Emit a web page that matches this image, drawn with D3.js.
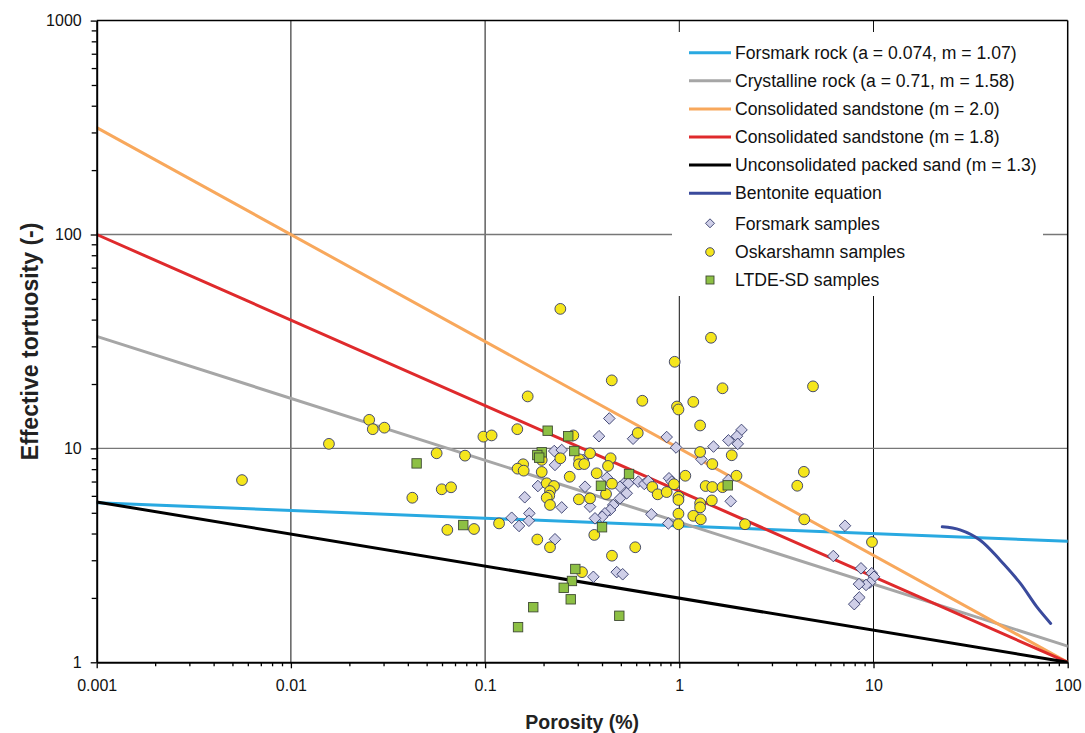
<!DOCTYPE html>
<html>
<head>
<meta charset="utf-8">
<script src="https://cdn.jsdelivr.net/npm/d3@7"></script>
<style>
  html, body { margin: 0; padding: 0; background: #fff; }
  svg { display: block; font-family: "Liberation Sans", Arial, sans-serif; }
</style>
</head>
<body>
<svg id="chart" width="1085" height="733"></svg>
<script>
// ---------------- DATA ----------------
const xTickValues = [0.001, 0.01, 0.1, 1, 10, 100];
const xTickLabels = ["0.001", "0.01", "0.1", "1", "10", "100"];
const yTickValues = [1, 10, 100, 1000];
const yTickLabels = ["1", "10", "100", "1000"];

const xTitle = "Porosity (%)";
const yTitle = "Effective tortuosity (-)";

const seriesNames = [
  "Forsmark rock (a = 0.074, m = 1.07)",
  "Crystalline rock (a = 0.71, m = 1.58)",
  "Consolidated sandstone (m = 2.0)",
  "Consolidated sandstone (m = 1.8)",
  "Unconsolidated packed sand (m = 1.3)",
  "Bentonite equation",
  "Forsmark samples",
  "Oskarshamn samples",
  "LTDE-SD samples"
];

// model lines [porosity %, tortuosity]
const forsmarkRock    = [[0.001, 5.57], [100, 3.68]];
const crystallineRock = [[0.001, 33.4], [100, 1.19]];
const sandstone20     = [[0.001, 316],  [100, 1]];
const sandstone18     = [[0.001, 100],  [100, 1]];
const packedSand      = [[0.001, 5.62], [100, 1]];
const bentonite       = [[22.6, 4.30], [27.9, 4.16], [35.3, 3.73], [44.8, 3.01], [56.8, 2.35], [69.2, 1.82], [81.7, 1.52]];

// samples [porosity %, tortuosity]
const forsmarkSamples = [
  [0.436, 13.8], [0.386, 11.4], [0.578, 11.1], [0.861, 11.3], [0.962, 10.1], [1.50, 10.2],
  [1.30, 8.89], [0.227, 9.72], [0.248, 9.83], [0.229, 8.37], [0.320, 8.83], [0.187, 6.67],
  [0.327, 6.62], [0.424, 7.30], [0.530, 6.99], [0.546, 6.87], [0.615, 6.99], [0.660, 6.82],
  [0.692, 7.04], [0.885, 7.25], [0.914, 6.99], [0.495, 6.62], [0.536, 6.17], [0.495, 5.84],
  [0.160, 5.91], [0.248, 5.30], [0.347, 5.34], [0.457, 5.44], [0.440, 5.15], [0.414, 4.97],
  [0.401, 4.79], [0.368, 4.71], [0.169, 4.97], [0.168, 4.59], [0.137, 4.74], [0.1495, 4.34],
  [0.718, 4.92], [0.878, 4.46], [0.229, 3.76], [0.361, 2.51], [0.476, 2.64], [0.511, 2.58],
  [2.09, 12.2], [1.98, 11.4], [1.79, 10.9], [2.00, 10.5], [1.79, 7.12], [1.84, 5.66],
  [7.13, 4.35], [6.21, 3.14], [8.62, 2.75], [9.79, 2.61], [10.06, 2.51], [9.59, 2.36],
  [9.15, 2.30], [8.42, 2.32], [8.45, 2.01], [7.96, 1.87]
];

const oskarshamnSamples = [
  [0.0056, 7.11], [0.0157, 10.5], [0.0253, 13.6], [0.0264, 12.3], [0.0303, 12.5], [0.0563, 9.49],
  [0.0788, 9.25], [0.0422, 5.88], [0.0598, 6.44], [0.0668, 6.58], [0.0639, 4.16], [0.0877, 4.20],
  [0.098, 11.35], [0.108, 11.5], [0.244, 44.9], [1.456, 32.9], [0.947, 25.4], [0.449, 20.8],
  [1.669, 19.1], [4.88, 19.5], [0.1657, 17.5], [0.645, 16.7], [0.973, 15.7], [0.99, 15.2],
  [1.18, 16.5], [1.28, 12.8], [0.1465, 12.3], [0.2846, 11.5], [0.611, 11.8], [1.28, 9.62],
  [1.479, 8.45], [0.347, 9.49], [0.443, 8.99], [0.244, 8.99], [0.1957, 8.83], [0.157, 8.43],
  [0.147, 8.04], [0.158, 7.87], [0.3055, 8.89], [0.304, 8.43], [0.324, 8.45], [0.4295, 8.28],
  [0.1957, 7.76], [0.3755, 7.65], [0.2727, 7.37], [1.074, 7.45], [0.2076, 6.87], [0.2264, 6.67],
  [0.450, 6.84], [0.726, 6.60], [0.2159, 6.32], [0.214, 6.01], [0.2076, 5.88], [0.2159, 5.44],
  [0.774, 6.10], [0.861, 6.25], [0.939, 6.80], [0.99, 5.94], [0.99, 5.74], [1.367, 6.67],
  [1.479, 6.60], [1.669, 6.59], [0.4195, 6.12], [0.347, 5.84], [0.304, 5.78], [1.28, 5.54],
  [1.28, 5.30], [1.47, 5.71], [0.99, 4.95], [1.18, 4.84], [1.29, 4.66], [0.99, 4.42],
  [0.118, 4.46], [0.365, 3.94], [0.1857, 3.75], [0.2159, 3.45], [0.593, 3.45], [0.450, 3.15],
  [0.3155, 2.64], [1.862, 9.29], [1.97, 7.45], [2.18, 4.42], [4.38, 7.77], [4.05, 6.69],
  [4.40, 4.66], [9.82, 3.65]
];

const ltdeSamples = [
  [0.0444, 8.51], [0.0772, 4.38], [0.210, 12.1], [0.268, 11.4], [0.1957, 9.59], [0.1857, 9.31],
  [0.190, 9.05], [0.288, 9.72], [0.551, 7.59], [0.395, 6.69], [0.400, 4.28], [0.2914, 2.73],
  [0.280, 2.40], [0.254, 2.23], [0.276, 1.97], [0.177, 1.81], [0.1478, 1.46], [0.491, 1.65],
  [1.776, 6.72]
];

// ---------------- STYLE ----------------
const colors = {
  forsmarkRock: "#29a9e1",
  crystalline: "#a6a6a6",
  sand20: "#f8a85c",
  sand18: "#df2a2c",
  packed: "#000000",
  bentonite: "#3a4a9c",
  forsmarkFill: "#cfcfe8",
  oskarFill: "#f5e61c",
  ltdeFill: "#8dc044",
  markerStroke: "#333a6a",
  ltdeStroke: "#3f4a33"
};

const svg = d3.select("#chart");

const x = d3.scaleLog().domain([0.001, 100]).range([96.7, 1067.7]);
const y = d3.scaleLog().domain([1, 1000]).range([662.3, 20.6]);
const [x0, x1] = x.range();
const [y0, y1] = y.range();

// clip
svg.append("defs").append("clipPath").attr("id", "plotClip")
  .append("rect").attr("x", x0).attr("y", y1).attr("width", x1 - x0).attr("height", y0 - y1);

// gridlines
const grid = svg.append("g");
grid.selectAll("line.v").data(xTickValues.slice(1, -1)).join("line")
  .attr("x1", d => x(d)).attr("x2", d => x(d))
  .attr("y1", y1).attr("y2", y0)
  .attr("stroke", "#111").attr("stroke-width", 1);
grid.selectAll("line.h").data(yTickValues.slice(1, -1)).join("line")
  .attr("x1", x0).attr("x2", x1)
  .attr("y1", d => y(d)).attr("y2", d => y(d))
  .attr("stroke", "#777").attr("stroke-width", 1.3);

// legend background (covers gridlines)
const legX = 672, legY = 32, legW = 371, legH = 264;
svg.append("rect").attr("x", legX).attr("y", legY).attr("width", legW).attr("height", legH).attr("fill", "#fff");

// top & right border
svg.append("line").attr("x1", x0).attr("x2", x1).attr("y1", y1).attr("y2", y1).attr("stroke", "#000").attr("stroke-width", 1.5);
svg.append("line").attr("x1", x1).attr("x2", x1).attr("y1", y1).attr("y2", y0).attr("stroke", "#000").attr("stroke-width", 1.5);

// model lines
const lineGen = d3.line().x(d => x(d[0])).y(d => y(d[1]));
const curveGen = d3.line().x(d => x(d[0])).y(d => y(d[1])).curve(d3.curveCatmullRom);
const plot = svg.append("g").attr("clip-path", "url(#plotClip)");
const lineDefs = [
  [forsmarkRock, colors.forsmarkRock, lineGen],
  [crystallineRock, colors.crystalline, lineGen],
  [sandstone20, colors.sand20, lineGen],
  [sandstone18, colors.sand18, lineGen],
  [packedSand, colors.packed, lineGen],
  [bentonite, colors.bentonite, curveGen]
];
lineDefs.forEach(([data, col, gen]) => {
  plot.append("path").datum(data).attr("d", gen)
    .attr("fill", "none").attr("stroke", col).attr("stroke-width", 3)
    .attr("stroke-linecap", "round");
});

// markers
const diamond = (cx, cy, r) => `M${cx},${cy - r}L${cx + r},${cy}L${cx},${cy + r}L${cx - r},${cy}Z`;
const mk = svg.append("g");
mk.selectAll("path.fs").data(forsmarkSamples).join("path")
  .attr("d", d => diamond(x(d[0]), y(d[1]), 5.8))
  .attr("fill", colors.forsmarkFill).attr("stroke", colors.markerStroke).attr("stroke-width", 0.9);
mk.selectAll("circle.os").data(oskarshamnSamples).join("circle")
  .attr("cx", d => x(d[0])).attr("cy", d => y(d[1])).attr("r", 5.4)
  .attr("fill", colors.oskarFill).attr("stroke", colors.markerStroke).attr("stroke-width", 0.9);
mk.selectAll("rect.lt").data(ltdeSamples).join("rect")
  .attr("x", d => x(d[0]) - 4.7).attr("y", d => y(d[1]) - 4.7).attr("width", 9.4).attr("height", 9.4)
  .attr("fill", colors.ltdeFill).attr("stroke", colors.ltdeStroke).attr("stroke-width", 0.9);

// axes
const fmtX = d => xTickLabels[xTickValues.indexOf(d)];
const fmtY = d => yTickLabels[yTickValues.indexOf(d)];
const minorX = [], minorY = [];
for (let e = -3; e < 2; e++) for (let k = 2; k <= 9; k++) minorX.push(k * Math.pow(10, e));
for (let e = 0; e < 3; e++) for (let k = 2; k <= 9; k++) minorY.push(k * Math.pow(10, e));

const xAxisG = svg.append("g").attr("transform", `translate(0,${y0})`);
xAxisG.append("g").call(d3.axisBottom(x).tickValues(minorX).tickSize(4).tickFormat("").tickSizeOuter(0))
  .call(g => g.select(".domain").remove());
xAxisG.append("g").call(d3.axisBottom(x).tickValues(xTickValues).tickSize(6).tickPadding(11).tickFormat(fmtX).tickSizeOuter(0));

const yAxisG = svg.append("g").attr("transform", `translate(${x0},0)`);
yAxisG.append("g").call(d3.axisLeft(y).tickValues(minorY).tickSize(5).tickFormat("").tickSizeOuter(0))
  .call(g => g.select(".domain").remove());
yAxisG.append("g").call(d3.axisLeft(y).tickValues(yTickValues).tickSize(6).tickPadding(9).tickFormat(fmtY).tickSizeOuter(0));

svg.selectAll(".tick line").attr("stroke", "#000").attr("stroke-width", 1.3);
svg.selectAll(".domain").attr("stroke", "#000").attr("stroke-width", 2);
svg.selectAll(".tick text").attr("font-size", 16).attr("fill", "#111")
  .attr("font-family", "'Liberation Sans', Arial, sans-serif");

// axis titles
svg.append("text").attr("x", (x0 + x1) / 2).attr("y", 729).attr("text-anchor", "middle")
  .attr("font-size", 19.5).attr("font-weight", "bold").attr("fill", "#222").text(xTitle);
svg.append("text").attr("transform", `translate(38,${(y0 + y1) / 2}) rotate(-90)`).attr("text-anchor", "middle")
  .attr("font-size", 23).attr("font-weight", "bold").attr("fill", "#222").text(yTitle);

// legend
const leg = svg.append("g");
const lineRows = [
  [colors.forsmarkRock, seriesNames[0]],
  [colors.crystalline, seriesNames[1]],
  [colors.sand20, seriesNames[2]],
  [colors.sand18, seriesNames[3]],
  [colors.packed, seriesNames[4]],
  [colors.bentonite, seriesNames[5]]
];
const legFont = 17.6;
lineRows.forEach(([col, name], i) => {
  const cy = 52.7 + i * 28.1;
  leg.append("line").attr("x1", 689).attr("x2", 731).attr("y1", cy).attr("y2", cy)
    .attr("stroke", col).attr("stroke-width", 3);
  leg.append("text").attr("x", 735).attr("y", cy).attr("dy", "0.35em").attr("font-size", legFont)
    .attr("fill", "#111").text(name);
});
const mrow = [224.3, 252, 280];
leg.append("path").attr("d", diamond(710, mrow[0] - 1, 4.5))
  .attr("fill", colors.forsmarkFill).attr("stroke", colors.markerStroke).attr("stroke-width", 0.9);
leg.append("circle").attr("cx", 710).attr("cy", mrow[1]).attr("r", 4.3)
  .attr("fill", colors.oskarFill).attr("stroke", colors.markerStroke).attr("stroke-width", 0.9);
leg.append("rect").attr("x", 706).attr("y", mrow[2] - 4).attr("width", 8).attr("height", 8)
  .attr("fill", colors.ltdeFill).attr("stroke", colors.ltdeStroke).attr("stroke-width", 0.9);
seriesNames.slice(6).forEach((name, i) => {
  leg.append("text").attr("x", 735).attr("y", mrow[i]).attr("dy", "0.35em").attr("font-size", legFont)
    .attr("fill", "#111").text(name);
});
</script>
</body>
</html>
